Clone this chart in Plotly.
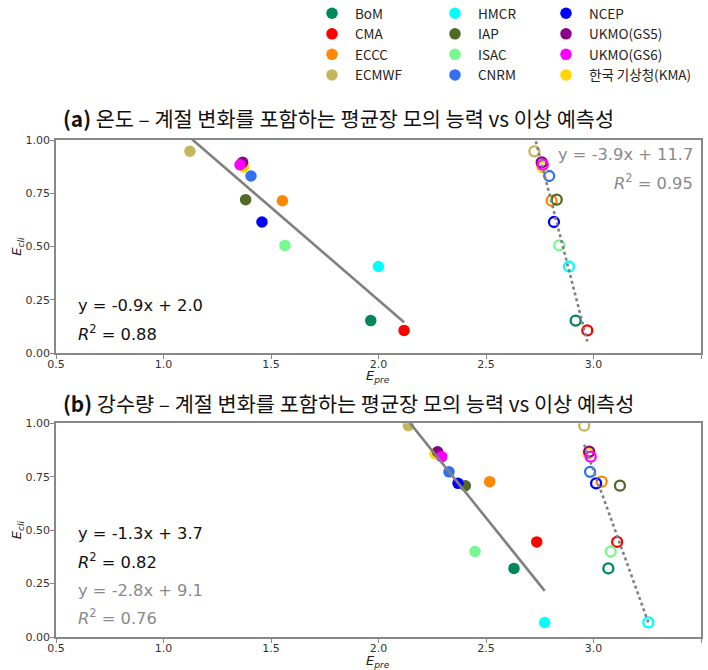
import plotly.graph_objects as go

models = ["BoM", "CMA", "ECCC", "ECMWF", "HMCR", "IAP", "ISAC", "CNRM",
          "NCEP", "UKMO(GS5)", "UKMO(GS6)", "한국 기상청(KMA)"]
colors = ["#00875a", "#ff0000", "#ff8800", "#c4b65c", "#00ffff", "#4f6b26",
          "#78f890", "#3272f0", "#0000ff", "#8b008b", "#ff00ff", "#ffd700"]

# (a) temperature
t_ecli = [0.152, 0.106, 0.715, 0.947, 0.406, 0.72, 0.505, 0.831, 0.615, 0.895, 0.884, 0.873]
t_epre_mean = [1.964, 2.119, 1.553, 1.123, 2.0, 1.382, 1.565, 1.407, 1.458, 1.368, 1.356, 1.374]
t_epre_anom = [2.917, 2.971, 2.805, 2.725, 2.886, 2.829, 2.841, 2.794, 2.816, 2.759, 2.764, 2.762]
# (b) precipitation
p_ecli = [0.321, 0.445, 0.727, 0.989, 0.068, 0.708, 0.40, 0.773, 0.719, 0.867, 0.844, 0.859]
p_epre_mean = [2.63, 2.736, 2.517, 2.139, 2.773, 2.404, 2.449, 2.328, 2.37, 2.275, 2.294, 2.263]
p_epre_anom = [3.069, 3.11, 3.038, 2.957, 3.255, 3.123, 3.08, 2.984, 3.012, 2.98, 2.987, 2.976]

# regression fits (slope, intercept)
t_fit_solid = (-0.871, 1.99)
t_fit_dot = (-3.93, 11.73)
p_fit_solid = (-1.254, 3.693)
p_fit_dot = (-2.79, 9.15)

x_ticks = [0.5, 1.0, 1.5, 2.0, 2.5, 3.0, 3.5]
y_ticks = [0.0, 0.25, 0.5, 0.75, 1.0]

titles = ["<b>(a)</b> 온도 – 계절 변화를 포함하는 평균장 모의 능력 vs 이상 예측성",
          "<b>(b)</b> 강수량 – 계절 변화를 포함하는 평균장 모의 능력 vs 이상 예측성"]

KFONT = "Noto Sans CJK KR"
W, H = 708, 670

def px(x):
    return x / W

def py(y):
    return 1 - y / H

fig = go.Figure()

# drawing order: KMA before UKMO so magenta ends on top
draw_order = [0, 1, 2, 3, 4, 5, 6, 7, 8, 11, 9, 10]
legend_names = ["legend", "legend", "legend", "legend",
                "legend2", "legend2", "legend2", "legend2",
                "legend3", "legend3", "legend3", "legend3"]

panels = [("x", "y", t_epre_mean, t_epre_anom, t_ecli),
          ("x2", "y2", p_epre_mean, p_epre_anom, p_ecli)]

for pi, (xa, ya, xm, xanom, ecli) in enumerate(panels):
    for i in draw_order:
        fig.add_trace(go.Scatter(
            x=[xanom[i]], y=[ecli[i]], mode="markers", xaxis=xa, yaxis=ya,
            marker=dict(symbol="circle-open", size=10, color=colors[i],
                        line=dict(width=2.3, color=colors[i])),
            showlegend=False, hoverinfo="skip"))
    for i in draw_order:
        fig.add_trace(go.Scatter(
            x=[xm[i]], y=[ecli[i]], mode="markers", xaxis=xa, yaxis=ya,
            name=models[i], legend=legend_names[i], legendrank=i + 1,
            marker=dict(symbol="circle", size=11.5, color=colors[i]),
            showlegend=(pi == 0)))

def fit_line(xs, fit):
    lo, hi = min(xs), max(xs)
    return [lo, hi], [fit[0] * lo + fit[1], fit[0] * hi + fit[1]]

for xa, ya, xs, fit, dash in [("x", "y", t_epre_mean, t_fit_solid, "solid"),
                              ("x", "y", t_epre_anom, t_fit_dot, "dot"),
                              ("x2", "y2", p_epre_mean, p_fit_solid, "solid"),
                              ("x2", "y2", p_epre_anom, p_fit_dot, "dot")]:
    lx, ly = fit_line(xs, fit)
    fig.add_trace(go.Scatter(x=lx, y=ly, mode="lines", xaxis=xa, yaxis=ya,
                             line=dict(color="#808080", width=2.6, dash=dash),
                             showlegend=False, hoverinfo="skip"))

axis_common = dict(range=[0.5, 3.5], tickvals=x_ticks, tickformat=".1f",
                   showgrid=False, zeroline=False, showline=True, mirror=True,
                   linecolor="#888888", linewidth=1.5, ticks="outside", ticklen=4,
                   tickcolor="#888888", automargin=False, ticklabelstandoff=-4,
                   tickfont=dict(family="DejaVu Sans", size=11, color="#333"))
yaxis_common = dict(range=[0, 1], tickvals=y_ticks, tickformat=".2f",
                    showgrid=False, zeroline=False, showline=True, mirror=True,
                    linecolor="#888888", linewidth=1.5, ticks="outside", ticklen=4,
                    tickcolor="#888888", automargin=False, ticklabelstandoff=-2,
                    tickfont=dict(family="DejaVu Sans", size=11, color="#333"),
                    title=dict(text="<i>E<sub>cli</sub></i>", standoff=1,
                               font=dict(family="DejaVu Sans", size=13, color="#222")))

fig.update_layout(
    width=W, height=H, margin=dict(l=0, r=0, t=0, b=0, autoexpand=False),
    plot_bgcolor="white", paper_bgcolor="white",
    xaxis=dict(domain=[px(56), px(701)], anchor="y", **axis_common),
    yaxis=dict(domain=[py(353), py(140)], anchor="x", **yaxis_common),
    xaxis2=dict(domain=[px(56), px(701)], anchor="y2", **axis_common),
    yaxis2=dict(domain=[py(637), py(423.3)], anchor="x2", **yaxis_common),
)

leg_common = dict(orientation="v", yanchor="top", y=1.003, xanchor="left",
                  bgcolor="rgba(0,0,0,0)", itemwidth=36, tracegroupgap=0,
                  font=dict(family=KFONT, size=13.5, color="#222"))
fig.update_layout(legend=dict(x=px(309), **leg_common),
                  legend2=dict(x=px(432), **leg_common),
                  legend3=dict(x=px(543), **leg_common))

for k, t in enumerate(titles):
    fig.add_annotation(text=t, xref="paper", yref="paper", x=px(61),
                       y=py([118, 403][k]), xanchor="left", yanchor="middle",
                       showarrow=False, font=dict(family=KFONT, size=20.8, color="#111"))

for yy in [376, 661]:
    fig.add_annotation(text="<i>E<sub>pre</sub></i>", xref="paper", yref="paper",
                       x=px(378), y=py(yy), xanchor="center", yanchor="middle",
                       showarrow=False, font=dict(family="DejaVu Sans", size=13, color="#222"))

eqs = [
    ("x", "y", 0.595, 0.225, "left", "y = -0.9x + 2.0", "#111"),
    ("x", "y", 0.595, 0.094, "left", "<i>R</i><sup>2</sup> = 0.88", "#111"),
    ("x", "y", 3.472, 0.93, "right", "y = -3.9x + 11.7", "#8a8a8a"),
    ("x", "y", 3.472, 0.803, "right", "<i>R</i><sup>2</sup> = 0.95", "#8a8a8a"),
    ("x2", "y2", 0.595, 0.486, "left", "y = -1.3x + 3.7", "#111"),
    ("x2", "y2", 0.595, 0.355, "left", "<i>R</i><sup>2</sup> = 0.82", "#111"),
    ("x2", "y2", 0.595, 0.219, "left", "y = -2.8x + 9.1", "#8a8a8a"),
    ("x2", "y2", 0.595, 0.093, "left", "<i>R</i><sup>2</sup> = 0.76", "#8a8a8a"),
]
for xa, ya, x, y, anc, txt, col in eqs:
    fig.add_annotation(text=txt, xref=xa, yref=ya, x=x, y=y, xanchor=anc, yanchor="middle",
                       showarrow=False, font=dict(family="DejaVu Sans", size=16.3, color=col))

# remove the default 8px page margin so the 708x670 figure fills the window exactly
fig.write_html("out.html", config={"displayModeBar": False},
               post_script="document.body.style.margin='0';document.body.style.overflow='hidden';")
